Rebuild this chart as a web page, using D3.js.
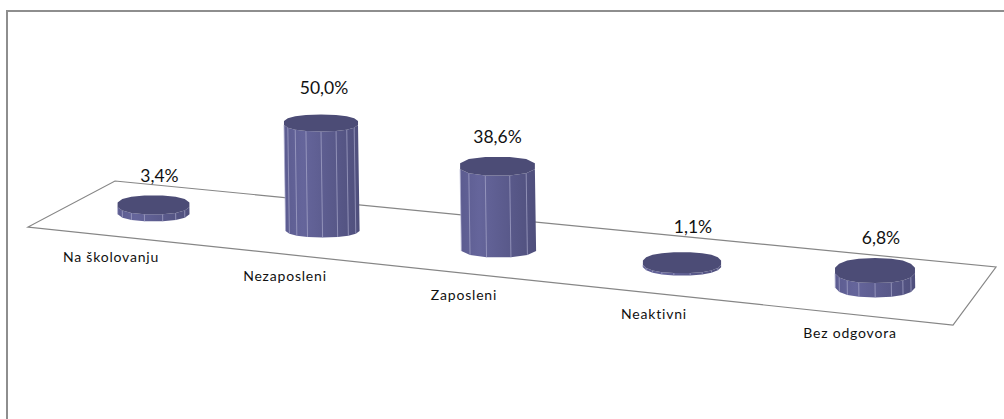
<!DOCTYPE html>
<html>
<head>
<meta charset="utf-8">
<script src="https://cdn.jsdelivr.net/npm/d3@7/dist/d3.min.js"></script>
<style>
	html, body { margin: 0; padding: 0; background: #fff; }
	text { font-family: Lato, "Open Sans", sans-serif; fill: #111; }
</style>
</head>
<body>
<svg id="chart" width="1004" height="419"></svg>
<script>
"use strict";

var categories = ["Na školovanju", "Nezaposleni", "Zaposleni", "Neaktivni", "Bez odgovora"];
var values = [3.4, 50.0, 38.6, 1.1, 6.8];
var valueLabels = ["3,4%", "50,0%", "38,6%", "1,1%", "6,8%"];

var width = 1004, height = 419;
var svg = d3.select("#chart");

// the floor is a skewed rectangle seen in perspective, so the scales are
// piecewise over the five category slots instead of straight lines
var slots = [0, 0.25, 0.5, 0.75, 1];
var depth = d3.scalePoint().domain(categories).range([0, 1]);
var xscale = d3.scaleLinear().domain(slots).range([153.5, 321, 497.5, 682, 875]);
var basescale = d3.scaleLinear().domain(slots).range([212, 229, 248, 265, 285]);
var rxscale = d3.scaleLinear().domain([0, 1]).range([36.5, 40.5]);
var ryscale = d3.scaleLinear().domain(slots).range([9.5, 8.5, 9.5, 10.5, 12.5]);
var hscale = d3.scaleLinear().domain([0, 50]).range([0, 106]);
var catx = d3.scaleLinear().domain(slots).range([111, 285, 464, 654, 850]);
var caty = d3.scaleLinear().domain([0, 1]).range([262, 338]);

// the office chart placed these by hand and they don't follow any rule
var sides = d3.scaleOrdinal(categories, [16, 18, 12, 20, 18]);
var valdx = d3.scaleOrdinal(categories, [6, 3, 0, 11, 6]);
var valdy = d3.scaleOrdinal(categories, [13.3, 20.5, 13.7, 19.2, 14.1]);

var line = d3.line();

// frame, only the top and left edges show
svg.append("path")
	.attr("d", line([[7, height], [7, 11], [width, 11]]))
	.attr("fill", "none").attr("stroke", "#8e8e8e").attr("stroke-width", 2);

// floor
svg.append("path")
	.attr("d", line([[115, 181], [996, 267], [953, 325], [28, 227]]) + "Z")
	.attr("fill", "#fff").attr("stroke", "#868686").attr("stroke-width", 1.2);

var defs = svg.append("defs");
var grad = defs.append("linearGradient").attr("id", "side");
grad.append("stop").attr("offset", "0%").attr("stop-color", "#5c5c90");
grad.append("stop").attr("offset", "25%").attr("stop-color", "#65659b");
grad.append("stop").attr("offset", "100%").attr("stop-color", "#4f4f7c");

// one outline point of the cylinder's polygon, a bit fuller than an ellipse
function rim(cx, cy, rx, ry, n, i) {
	let a = i / n * 2 * Math.PI + Math.PI / n;
	let c = Math.cos(a), s = Math.sin(a);
	return [
		cx + rx * Math.sign(c) * Math.pow(Math.abs(c), 0.85),
		cy + ry * Math.sign(s) * Math.pow(Math.abs(s), 0.85)
	];
}

var bars = svg.selectAll(".bar")
	.data(categories)
	.enter().append("g")
	.classed("bar", true);

bars.each(function(d, k) {
	let g = d3.select(this);
	let t = depth(d);
	let n = sides(d);
	let h = hscale(values[k]);
	let base = basescale(t), rx = rxscale(t), ry = ryscale(t);
	let top = base - h;
	// tall ones lean a little
	let cxtop = xscale(t), cxbase = cxtop + h * 0.015;

	// side wall: front half of the polygon swept down
	let front = d3.range(0, n / 2 + 1).map(i=>rim(cxbase, base, rx, ry, n, i));
	let back = d3.range(n / 2, -1, -1).map(i=>rim(cxtop, top, rx, ry, n, i));
	g.append("path")
		.attr("d", line(front.concat(back)) + "Z")
		.attr("fill", "url(#side)");

	// light facet edges
	for (let i = 1; i < n / 2; i++) {
		let p0 = rim(cxtop, top, rx, ry, n, i);
		let p1 = rim(cxbase, base, rx, ry, n, i);
		g.append("line")
			.attr("x1", p0[0]).attr("y1", p0[1])
			.attr("x2", p1[0]).attr("y2", p1[1])
			.attr("stroke", "#a9a9cc").attr("stroke-width", 0.7);
	}

	g.append("path")
		.attr("d", line(d3.range(n).map(i=>rim(cxtop, top, rx, ry, n, i))) + "Z")
		.attr("fill", "#4c4c76");
});

// value labels sit above each cylinder top
svg.selectAll(".val")
	.data(categories)
	.enter().append("text")
	.classed("val", true)
	.attr("x", d=>xscale(depth(d)) + valdx(d))
	.attr("y", (d, i)=>basescale(depth(d)) - hscale(values[i]) - ryscale(depth(d)) - valdy(d))
	.attr("text-anchor", "middle")
	.attr("font-size", 17.5)
	.text((d, i)=>valueLabels[i]);

svg.selectAll(".cat")
	.data(categories)
	.enter().append("text")
	.classed("cat", true)
	.attr("x", d=>catx(depth(d)))
	.attr("y", d=>caty(depth(d)))
	.attr("text-anchor", "middle")
	.attr("font-size", 14)
	.attr("letter-spacing", 0.8)
	.text(d=>d);
</script>
</body>
</html>
